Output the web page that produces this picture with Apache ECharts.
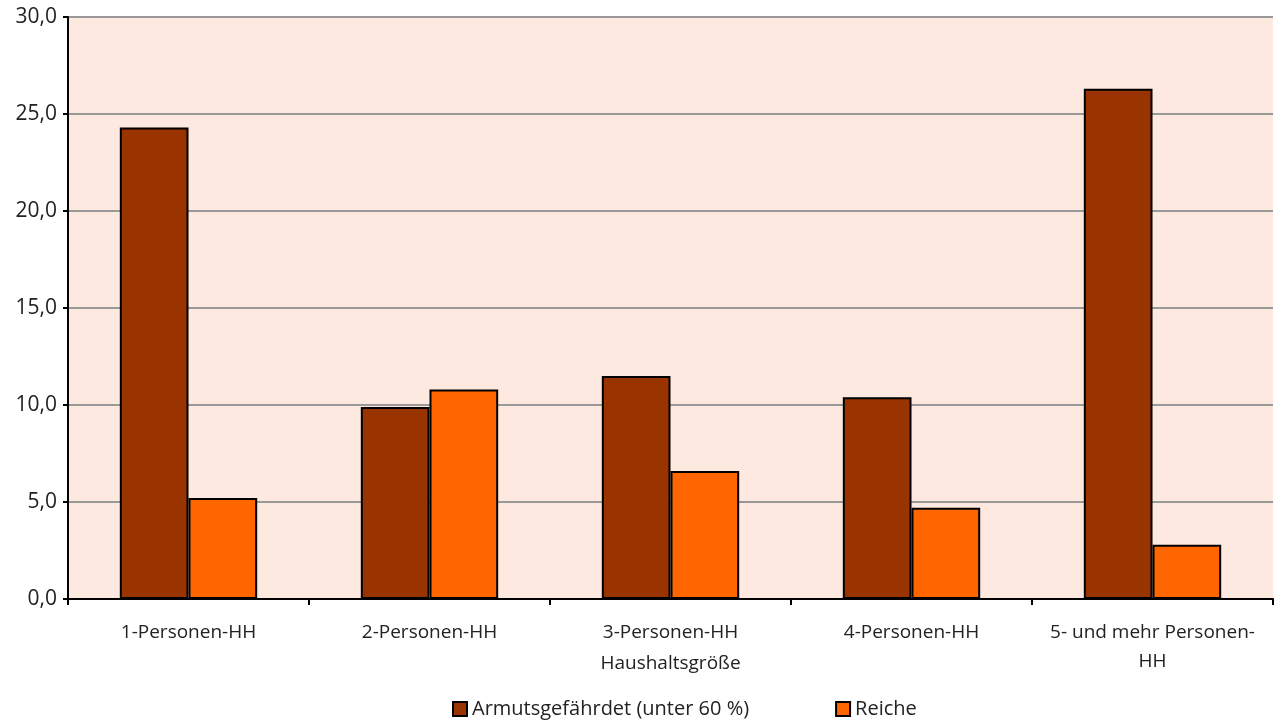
<!DOCTYPE html>
<html><head><meta charset="utf-8">
<script src="https://cdn.jsdelivr.net/npm/echarts@6/dist/echarts.min.js"></script>
<style>html,body{margin:0;padding:0;background:#fff}#c{width:1278px;height:722px}</style>
</head><body><div id="c"></div>
<script>
const categories = ["1-Personen-HH", "2-Personen-HH", "3-Personen-HH", "4-Personen-HH", "5- und mehr Personen-\nHH"];
const armut = [24.3, 9.9, 11.5, 10.4, 26.3];
const reiche = [5.2, 10.8, 6.6, 4.7, 2.8];
const seriesNames = ["Armutsgefährdet (unter 60 %)", "Reiche"];
const yTicks = { min: 0, max: 30, interval: 5 };

const font = "'Open Sans', 'Noto Sans', sans-serif";
const chart = echarts.init(document.getElementById('c'), null, { renderer: 'canvas' });
chart.setOption({
  animation: false,
  textStyle: { fontFamily: font },
  grid: { left: 68, right: 5, top: 17, bottom: 123, show: true, backgroundColor: '#fde9df', borderWidth: 0 },
  legend: {
    left: 447, top: 694, itemWidth: 14, itemHeight: 14, itemGap: 86,
    textStyle: { fontFamily: font, fontSize: 20, color: '#222' },
    data: seriesNames.map(n => ({ name: n, icon: 'rect' }))
  },
  xAxis: {
    type: 'category', data: categories,
    name: 'Haushaltsgröße', nameLocation: 'middle', nameGap: 55, nameMoveOverlap: false,
    nameTextStyle: { fontFamily: font, fontSize: 19, color: '#222' },
    axisLine: { lineStyle: { color: '#000', width: 2 } },
    axisTick: { show: true, length: 6, lineStyle: { color: '#000', width: 2 } },
    axisLabel: { fontFamily: font, fontSize: 19, color: '#222', margin: 19, lineHeight: 29, interval: 0 }
  },
  yAxis: {
    type: 'value', min: yTicks.min, max: yTicks.max, interval: yTicks.interval,
    axisLine: { show: true, lineStyle: { color: '#000', width: 2 } },
    axisTick: { show: true, length: 5, lineStyle: { color: '#000', width: 2 } },
    splitLine: { lineStyle: { color: '#999', width: 2 } },
    axisLabel: { fontFamily: font, fontSize: 21, color: '#222', margin: 11,
      formatter: v => v.toFixed(1).replace('.', ',') }
  },
  series: [
    { name: seriesNames[0], type: 'bar', data: armut, barGap: '0%', barCategoryGap: '43%',
      itemStyle: { color: '#993300', borderColor: '#000', borderWidth: 2 } },
    { name: seriesNames[1], type: 'bar', data: reiche,
      itemStyle: { color: '#ff6600', borderColor: '#000', borderWidth: 2 } }
  ]
});
</script></body></html>
